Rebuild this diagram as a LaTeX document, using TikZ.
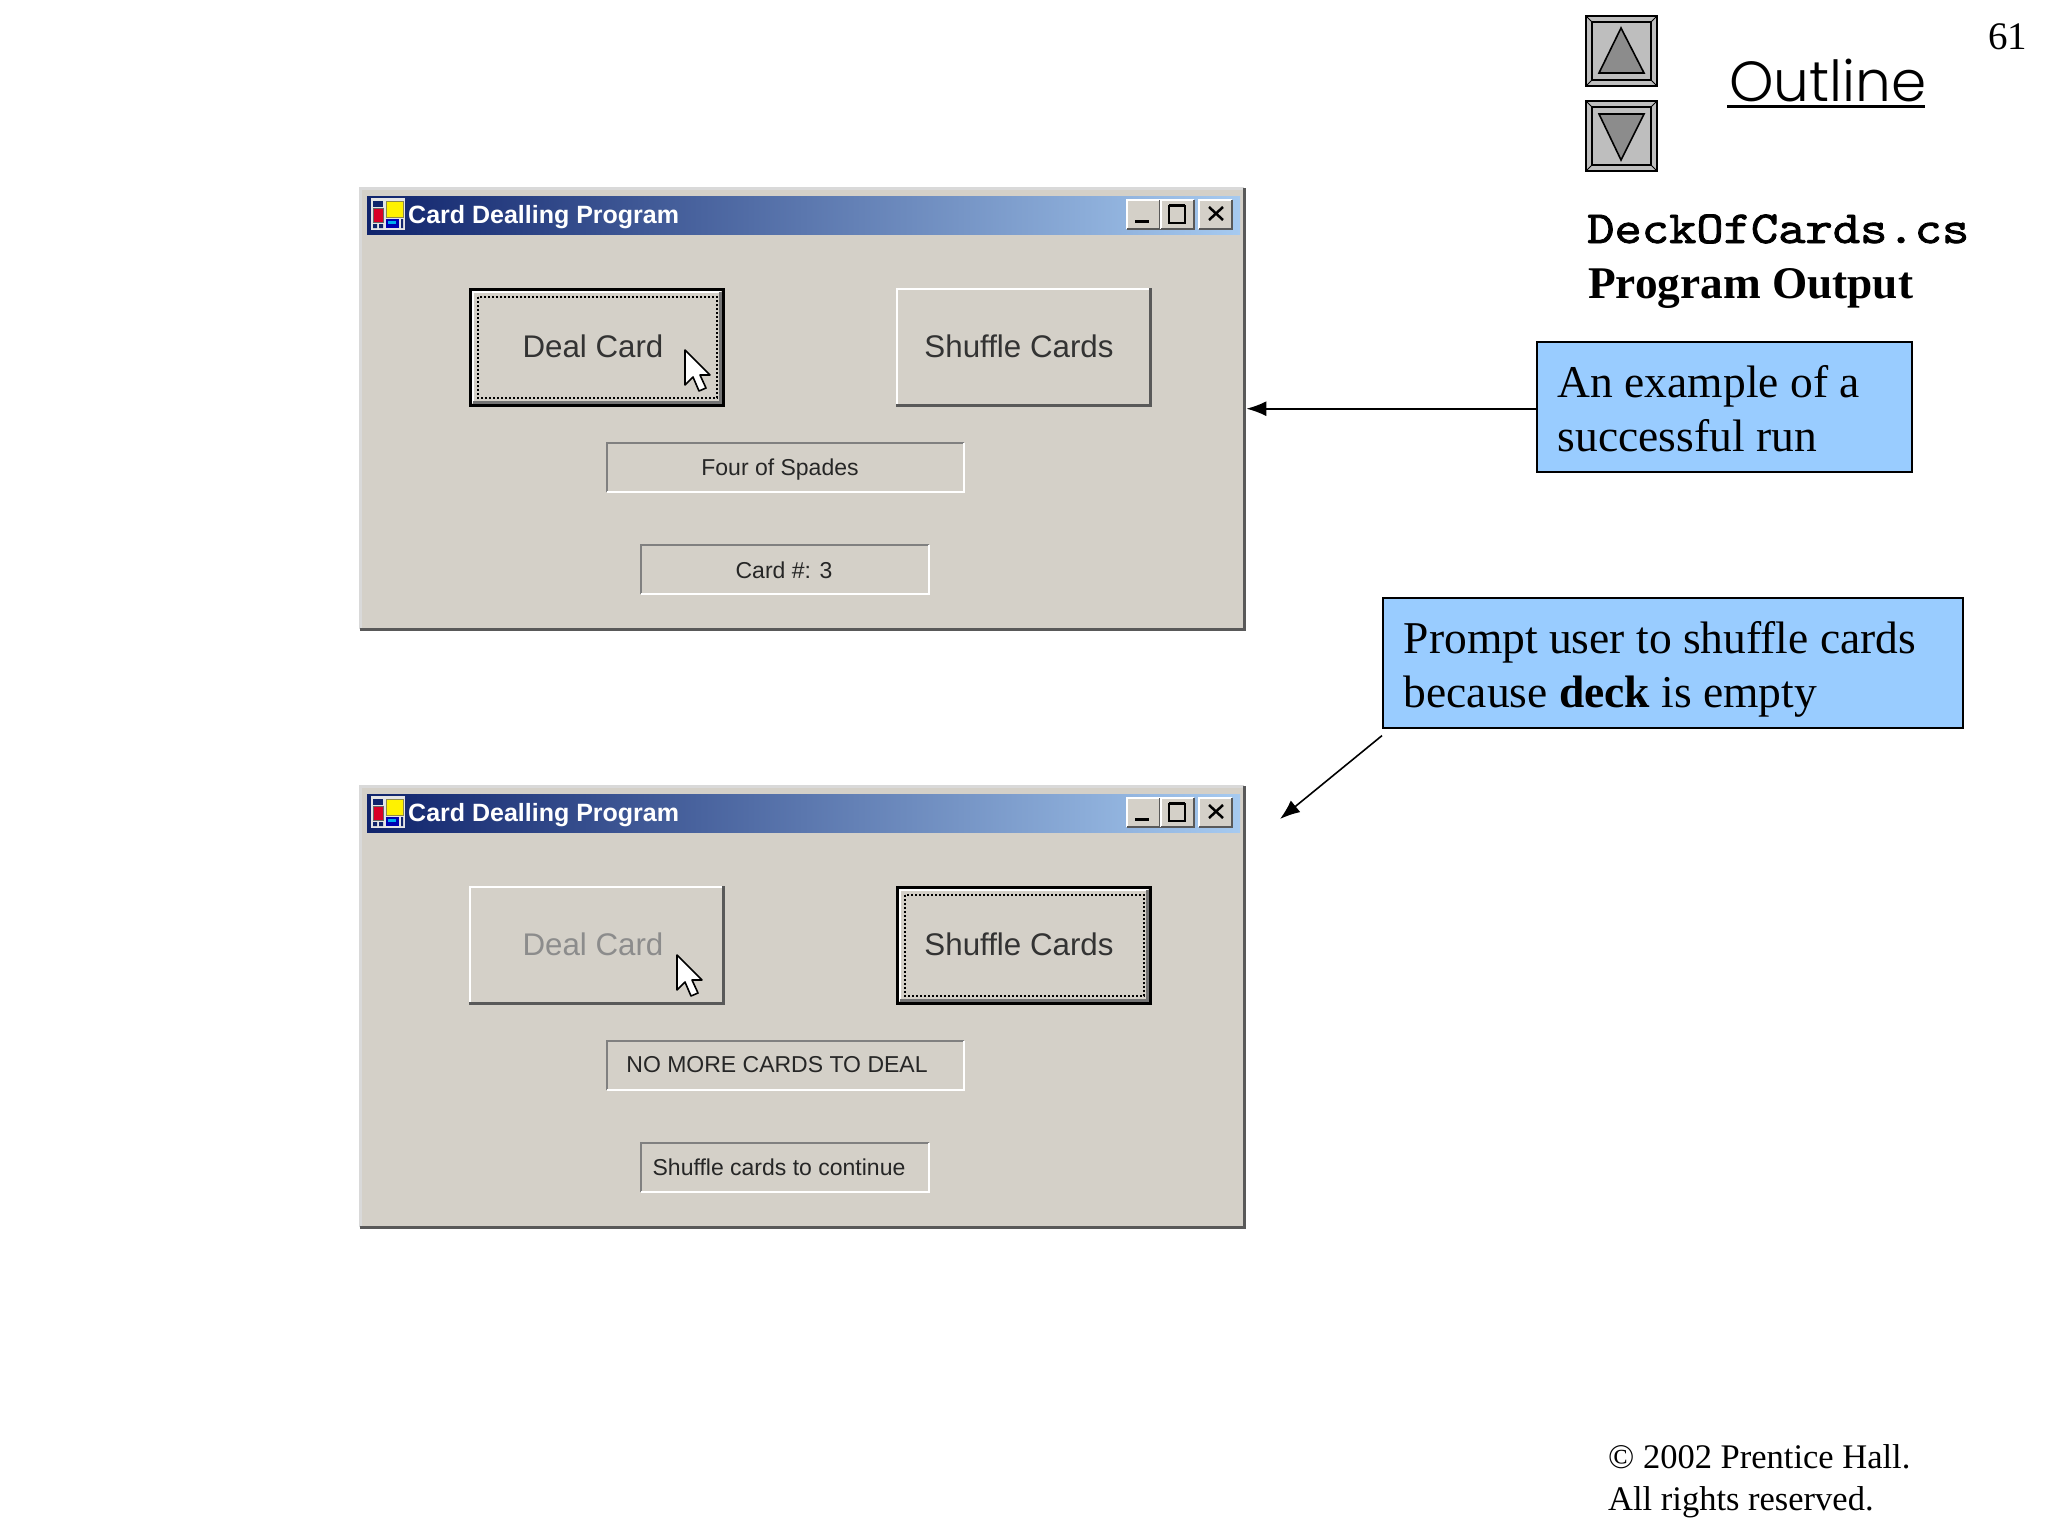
\documentclass[tikz,border=0pt]{standalone}
\usepackage{fontspec}
\setmainfont{Liberation Serif}
\setsansfont{Liberation Sans}
\newfontfamily\outlinefont{Poppins Light}
\newfontfamily\codefont[FakeBold=1.6]{lmmono10-regular.otf}
\usetikzlibrary{arrows.meta}
\definecolor{formgray}{RGB}{212,208,200}
\definecolor{calloutblue}{RGB}{153,204,255}
\definecolor{navgray}{RGB}{190,190,190}
\definecolor{arrowgray}{RGB}{140,140,140}
\definecolor{titledark}{RGB}{16,36,108}
\definecolor{titlemid}{RGB}{92,122,178}
\definecolor{titlelight}{RGB}{166,202,240}
\tikzset{
  formtext/.style={font=\sffamily\fontsize{31.3}{38}\selectfont, text=black!80},
  labeltext/.style={font=\sffamily\fontsize{23}{28}\selectfont, text=black!85},
  callout/.style={draw=black, line width=1.6pt, fill=calloutblue, anchor=north west, align=flush left,
    font=\fontsize{45.5}{54}\selectfont, inner xsep=21pt, inner ysep=0pt, minimum height=130pt, text width=#1},
  pagetext/.style={anchor=base west, inner sep=0pt},
  callarrow/.style={draw, line width=1.6pt, -{Latex[length=20pt,width=15pt]}}
}
\newcommand{\topgap}{\rule{0pt}{46pt}}
\newcommand{\botgap}{\rule[-10pt]{0pt}{10pt}}
% raised button, args: left, top, right, bottom
\newcommand{\raisedbutton}[4]{
\draw[white, line width=2pt] (#1+1,#4) -- (#1+1,#2+1) -- (#3,#2+1);
\draw[black!65, line width=3pt] (#1,#4-1.5) -- (#3-1.5,#4-1.5) -- (#3-1.5,#2);
}
% default button: black frame and dotted focus line
\newcommand{\focusbutton}[4]{
\draw[black, line width=3pt] (#1+1.5,#2+1.5) rectangle (#3-1.5,#4-1.5);
\draw[white, line width=2pt] (#1+4,#4-4) -- (#1+4,#2+4) -- (#3-4,#2+4);
\draw[black!55, line width=3pt] (#1+4,#4-5) -- (#3-5,#4-5) -- (#3-5,#2+4);
\draw[black, line width=2pt, dotted] (#1+9,#2+9) rectangle (#3-8,#4-9);
}
% sunken label box
\newcommand{\sunkenbox}[4]{
\draw[black!50, line width=1.5pt] (#1,#4) -- (#1,#2) -- (#3,#2);
\draw[white, line width=2pt] (#1,#4) -- (#3,#4) -- (#3,#2);
}
% mouse pointer, tip at given point
\newcommand{\pointer}[2]{
\draw[black, fill=white, line width=1.6pt, line join=round, shift={(#1,#2)}]
  (0,0) -- (0,35) -- (8,27) -- (14,41) -- (21,38) -- (15,25) -- (25,25) -- cycle;
}
% window frame with title bar
\newcommand{\cardwindow}[1]{
\node[minimum width=884pt, minimum height=441pt, inner sep=0pt, fill=formgray, anchor=north west] (#1) at (360,0) {};
\draw[white!85!black, line width=3pt] (#1.south west) -- (#1.north west) -- (#1.north east);
\draw[black!65, line width=3pt] (#1.south west) -- (#1.south east) -- (#1.north east);
\shade[left color=titledark, middle color=titlemid, right color=titlelight] (367,8) rectangle (1240,46);
\node[pagetext, font=\sffamily\bfseries\fontsize{25}{30}\selectfont, text=white] at (408,35) {Card Dealling Program};
% icon
\fill[white!80!gray] (371,10) rectangle (405,42);
\fill[titledark] (373,13) rectangle (383,19);
\fill[red!85!blue, draw=black!60] (373,20) rectangle (383,34);
\fill[yellow, draw=black!50!yellow] (386,13) rectangle (403,29);
\fill[blue!70!black] (386,31) rectangle (399,40);
\fill[cyan] (388,33) rectangle (396,36);
\fill[titledark] (373,36) rectangle (377,40) (379,36) rectangle (383,40) (401,31) rectangle (403,40);
% caption buttons
\foreach \bx in {1127,1161,1199}{
  \fill[formgray] (\bx,12) rectangle ++(33,29);
  \draw[white, line width=1.5pt] (\bx,41) -- (\bx,12) -- (\bx+33,12);
  \draw[black!65, line width=2pt] (\bx,41) -- (\bx+33,41) -- (\bx+33,12);
}
\fill[black] (1135,32) rectangle (1149,35);
\draw[black, line width=2pt] (1169,18) rectangle (1185,35);
\draw[black, line width=1.5pt] (1169,17) -- (1185,17);
\draw[black, line width=2.5pt] (1209,19) -- (1223,32) (1223,19) -- (1209,32);
}
\begin{document}
\begin{tikzpicture}[x=1pt, y=-1pt]
\useasboundingbox (0,0) rectangle (2048,1536);
\fill[white] (0,0) rectangle (2048,1536);

% top window
\begin{scope}[yshift=-188pt]
\cardwindow{winA}
\focusbutton{469}{100}{725}{219}
\node[formtext] (dealA) at (593,158) {Deal Card};
\pointer{685}{162}
\raisedbutton{896}{100}{1152}{219}
\node[formtext] (shuffleA) at (1019,158) {Shuffle Cards};
\sunkenbox{607}{255}{964}{304}
\node[labeltext] (suitA) at (780,282) {Four of Spades};
\sunkenbox{641}{357}{929}{406}
\node[labeltext] (countA) at (784,382) {Card \#: 3};
\end{scope}

% bottom window
\begin{scope}[yshift=-786pt]
\cardwindow{winB}
\raisedbutton{469}{100}{725}{219}
\node[formtext, text=black!45] (dealB) at (593,158) {Deal Card};
\pointer{677}{169}
\focusbutton{896}{100}{1152}{219}
\node[formtext] (shuffleB) at (1019,158) {Shuffle Cards};
\sunkenbox{607}{255}{964}{304}
\node[labeltext] (suitB) at (777,279) {NO MORE CARDS TO DEAL};
\sunkenbox{641}{357}{929}{406}
\node[labeltext] (countB) at (779,381) {Shuffle cards to continue};
\end{scope}

% callouts
\node[callout=333pt] (run) at (1536,341) {\topgap An example of a\\successful run\botgap};
\node[callout=538pt] (prompt) at (1382,597) {\topgap Prompt user to shuffle cards\\because \textbf{deck} is empty\botgap};
\coordinate (promptend) at (1280,819);
\draw[callarrow] (run.west |- winA.east) -- ([xshift=2pt]winA.east);
\draw[callarrow] ([yshift=-7pt]prompt.south west) -- (promptend);

% outline buttons
\foreach \ny in {16,101}{
  \fill[navgray] (1586,\ny) rectangle ++(71,70);
  \draw[black, line width=1.5pt] (1586,\ny) rectangle ++(71,70);
  \draw[black, line width=1.5pt] (1592,\ny+6) rectangle (1651,\ny+64);
  \draw[black, line width=1pt] (1586,\ny) -- (1592,\ny+6) (1657,\ny) -- (1651,\ny+6) (1586,\ny+70) -- (1592,\ny+64) (1657,\ny+70) -- (1651,\ny+64);
}
\draw[black, line width=1.6pt, fill=arrowgray] (1621,28) -- (1644,73) -- (1599,73) -- cycle;
\draw[black, line width=1.6pt, fill=arrowgray] (1621,160) -- (1644,114) -- (1599,114) -- cycle;

% page text
\node[pagetext, font=\outlinefont\fontsize{56.5}{70}\selectfont] (outline) at (1729,102) {Outline};
\draw[black, line width=3pt] (1727,107) -- (1925,107);
\node[pagetext, font=\fontsize{39}{46}\selectfont] (pageno) at (1988,50) {61};
\node[pagetext, xscale=1.13, font=\codefont\fontsize{46}{52}\selectfont] (fname) at (1587,243) {DeckOfCards.cs};
\node[pagetext, font=\bfseries\fontsize{45.3}{52}\selectfont] (progout) at (1588,298) {Program Output};
\node[pagetext, font=\fontsize{34.5}{42}\selectfont] (copy) at (1608,1468) {\textcopyright{} 2002 Prentice Hall.};
\node[pagetext, font=\fontsize{34.5}{42}\selectfont] (rights) at (1608,1510) {All rights reserved.};
\end{tikzpicture}
\end{document}
